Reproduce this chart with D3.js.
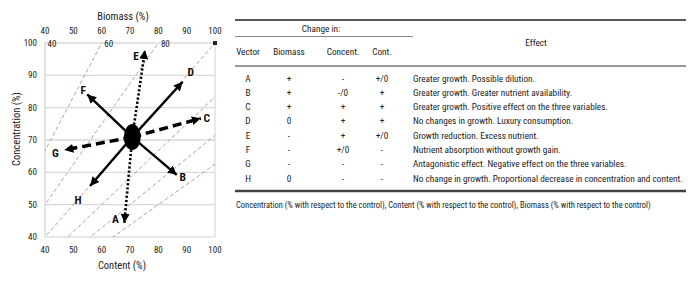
<!DOCTYPE html>
<html><head><meta charset="utf-8">
<script src="https://cdn.jsdelivr.net/npm/d3@7/dist/d3.min.js"></script>
<style>
body{margin:0;background:#fff;}
svg text{font-family:"Liberation Sans Narrow","Arial Narrow","Roboto Condensed","Liberation Sans",sans-serif;fill:#222;}
</style></head>
<body><svg id="c" width="688" height="287"></svg>
<script>
// ---- data ----
const xTicks = [40,50,60,70,80,90,100];
const yTicks = [40,50,60,70,80,90,100];
const biomassLines = [60,80,100,120,140,160];
const isoLabels = [{v:40,t:"40"},{v:60,t:"60"},{v:80,t:"80"}];
const center = {x:70.8, y:70.9};
const vectorNames = ["A","B","C","D","E","F","G","H"];
const vectorX = [68.0, 86.5, 95.0, 88.6, 75.3, 54.9, 46.8, 55.9];
const vectorY = [44.4, 59.2, 76.7, 88.0, 97.8, 84.1, 66.9, 55.8];
const vectorStyle = ["dot","solid","dash","solid","dot","solid","dash","solid"];
const labelDX = [-9, 6, 6, 8, -9, -4, -9, -12];
const labelDY = [-4, 2, 0, -10, 6, -4, 3, 14];
const tblVector = ["A","B","C","D","E","F","G","H"];
const tblBiomass = ["+","+","+","0","-","-","-","0"];
const tblConcent = ["-","-/0","+","+","+","+/0","-","-"];
const tblCont = ["+/0","+","+","+","+/0","-","-","-"];
const tblEffect = ["Greater growth. Possible dilution.","Greater growth. Greater nutrient availability.","Greater growth. Positive effect on the three variables.","No changes in growth. Luxury consumption.","Growth reduction. Excess nutrient.","Nutrient absorption without growth gain.","Antagonistic effect. Negative effect on the three variables.","No change in growth. Proportional decrease in concentration and content."];
const footnote = "Concentration (% with respect to the control), Content (% with respect to the control), Biomass (% with respect to the control)";

const svg = d3.select("#c");
const x = d3.scaleLinear().domain([40,100]).range([45,215]);
const y = d3.scaleLinear().domain([40,100]).range([237,43]);

// gridlines
svg.append("g").selectAll("line").data(yTicks.filter(v=>v>40)).join("line")
  .attr("x1",x(40)).attr("x2",x(100)).attr("y1",d=>y(d)).attr("y2",d=>y(d))
  .attr("stroke","#d9d9d9").attr("stroke-width",1.3);
svg.append("line").attr("x1",x(40)).attr("x2",x(40)).attr("y1",y(40)).attr("y2",y(100)).attr("stroke","#d0d0d0").attr("stroke-width",1.2);
svg.append("line").attr("x1",x(100)).attr("x2",x(100)).attr("y1",y(40)).attr("y2",y(100)).attr("stroke","#d9d9d9").attr("stroke-width",1.2);
svg.append("line").attr("x1",x(40)).attr("x2",x(100)).attr("y1",y(40)).attr("y2",y(40)).attr("stroke","#d0d0d0").attr("stroke-width",1.2);

// biomass isolines: concentration = content*100/B
svg.append("clipPath").attr("id","pc").append("rect")
  .attr("x",x(40)).attr("y",y(100)).attr("width",x(100)-x(40)).attr("height",y(40)-y(100));
svg.append("g").attr("clip-path","url(#pc)").selectAll("line").data(biomassLines).join("line")
  .attr("x1",x(30)).attr("y1",d=>y(30*100/d))
  .attr("x2",x(110)).attr("y2",d=>y(110*100/d))
  .attr("stroke","#c0806e").attr("stroke-width",0.8).attr("stroke-dasharray","4,2.5");

const tickFont = 9;
svg.append("g").selectAll("text").data(yTicks).join("text")
  .attr("x",37).attr("y",d=>y(d)).attr("dy","0.35em").attr("text-anchor","end")
  .attr("font-size",tickFont).text(d=>d);
svg.append("g").selectAll("text").data(xTicks).join("text")
  .attr("x",d=>x(d)).attr("y",250).attr("dy","0.35em").attr("text-anchor","middle")
  .attr("font-size",tickFont).text(d=>d);
svg.append("g").selectAll("text").data(xTicks).join("text")
  .attr("x",d=>x(d)).attr("y",31).attr("dy","0.35em").attr("text-anchor","middle")
  .attr("font-size",tickFont).text(d=>d);
svg.append("g").selectAll("text").data(isoLabels).join("text")
  .attr("x",d=>x(d.v)+7).attr("y",y(100)+1).attr("dy","0.35em").attr("text-anchor","middle")
  .attr("font-size",tickFont).text(d=>d.t);
svg.append("rect").attr("x",x(100)-2).attr("y",y(100)-2).attr("width",4).attr("height",4).attr("fill","#222");

svg.append("text").attr("x",123).attr("y",16).attr("dy","0.35em").attr("text-anchor","middle").attr("font-size",10.5).text("Biomass (%)");
svg.append("text").attr("x",122).attr("y",265).attr("dy","0.35em").attr("text-anchor","middle").attr("font-size",10.5).text("Content (%)");
svg.append("text").attr("transform","translate(16,129) rotate(-90)").attr("dy","0.35em").attr("text-anchor","middle").attr("font-size",10.5).text("Concentration (%)");

const defs = svg.append("defs");
defs.append("marker").attr("id","ah").attr("viewBox","0 0 10 10").attr("refX",10).attr("refY",5)
  .attr("markerUnits","userSpaceOnUse").attr("markerWidth",9).attr("markerHeight",9).attr("orient","auto")
  .append("path").attr("d","M0,0 L10,5 L0,10 Z").attr("fill","#000");

const vecs = vectorNames.map((n,i)=>({n, x:vectorX[i], y:vectorY[i], s:vectorStyle[i], dx:labelDX[i], dy:labelDY[i]}));
svg.append("g").selectAll("line").data(vecs).join("line")
  .attr("x1",x(center.x)).attr("y1",y(center.y))
  .attr("x2",d=>x(d.x)).attr("y2",d=>y(d.y))
  .attr("stroke","#000")
  .attr("stroke-width",d=>d.s==="dash"?3.5:(d.s==="dot"?2.6:2.4))
  .attr("stroke-dasharray",d=>d.s==="dash"?"9,5":(d.s==="dot"?"2.2,2":null))
  .attr("marker-end","url(#ah)");
svg.append("ellipse").attr("cx",x(center.x)).attr("cy",y(center.y)).attr("rx",8.5).attr("ry",13).attr("fill","#000");
svg.append("g").selectAll("text").data(vecs).join("text")
  .attr("x",d=>x(d.x)+d.dx).attr("y",d=>y(d.y)+d.dy).attr("dy","0.35em").attr("text-anchor","middle")
  .attr("font-size",11.5).attr("font-weight","bold").style("fill","#111").text(d=>d.n);

// ---- table ----
const t = svg.append("g");
const tf = 9.5;
t.append("line").attr("x1",235).attr("x2",686).attr("y1",20).attr("y2",20).attr("stroke","#222").attr("stroke-width",1.4);
t.append("text").attr("class","tt").attr("x",321).attr("y",29).attr("dy","0.35em").attr("text-anchor","middle").text("Change in:");
t.append("line").attr("x1",235).attr("x2",413).attr("y1",36.5).attr("y2",36.5).attr("stroke","#888").attr("stroke-width",1);
const colX = [248,289,343,382];
const heads = ["Vector","Biomass","Concent.","Cont."];
t.append("g").selectAll("text").data(heads).join("text").attr("class","tt")
  .attr("x",(d,i)=>colX[i]).attr("y",51.5).attr("dy","0.35em").attr("text-anchor","middle").text(d=>d);
t.append("text").attr("class","tt").attr("x",536).attr("y",43).attr("dy","0.35em").attr("text-anchor","middle").text("Effect");
t.append("line").attr("x1",235).attr("x2",686).attr("y1",66).attr("y2",66).attr("stroke","#999").attr("stroke-width",2);
const rowY = d3.scaleLinear().domain([0,7]).range([78.3,178.3]);
const cols = [tblVector,tblBiomass,tblConcent,tblCont];
cols.forEach((col,ci)=>{
  t.append("g").selectAll("text").data(col).join("text").attr("class","tt")
    .attr("x",colX[ci]).attr("y",(d,i)=>rowY(i)).attr("dy","0.35em").attr("text-anchor","middle").text(d=>d);
});
const eff = t.append("g").selectAll("text").data(tblEffect).join("text").attr("class","tt")
  .attr("x",413).attr("y",(d,i)=>rowY(i)).attr("dy","0.35em").text(d=>d);
t.selectAll("text.tt").attr("font-size",tf);
// fit table font so the longest effect spans ~270px as in the reference
const longest = d3.max(eff.nodes(), n=>n.getComputedTextLength());
const tfFit = tf*270/longest;
t.selectAll("text.tt").attr("font-size",tfFit);
t.append("line").attr("x1",235).attr("x2",686).attr("y1",191).attr("y2",191).attr("stroke","#444").attr("stroke-width",2.5);
const fn = t.append("text").attr("x",236).attr("y",205).attr("dy","0.35em").attr("font-size",8.3).text(footnote);
const fl = fn.node().getComputedTextLength();
fn.attr("font-size",8.3*415/fl);
</script></body></html>
